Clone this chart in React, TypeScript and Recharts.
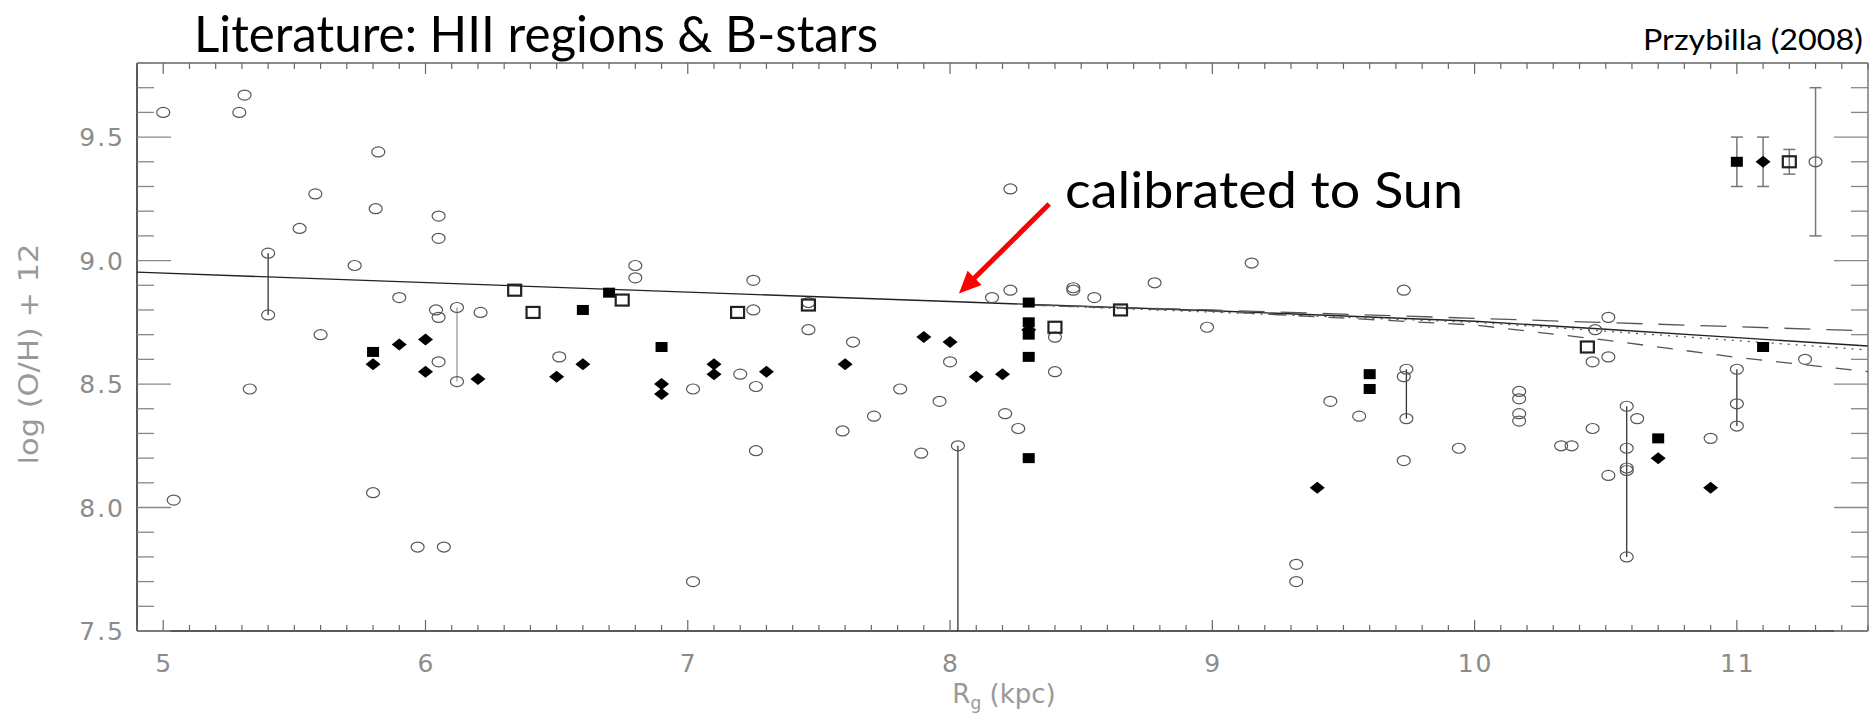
import { ComposedChart, Scatter, Line, XAxis, YAxis, ReferenceLine, ErrorBar } from "recharts"

// [R_g (kpc), log(O/H)+12]
const hiiRegions: [number, number][] = [
  [5.0, 9.6], [5.29, 9.6], [5.31, 9.67], [5.33, 8.48], [5.04, 8.03], [5.4, 9.03], [5.4, 8.78],
  [5.52, 9.13], [5.58, 9.27], [5.6, 8.7], [5.73, 8.98], [5.82, 9.44], [5.81, 9.21], [5.8, 8.06],
  [5.9, 8.85], [5.97, 7.84], [6.07, 7.84], [6.05, 9.18], [6.05, 9.09], [6.04, 8.8], [6.05, 8.77],
  [6.05, 8.59], [6.12, 8.81], [6.12, 8.51], [6.21, 8.79], [6.51, 8.61], [6.8, 8.98], [6.8, 8.93],
  [7.02, 8.48], [7.02, 7.7], [7.25, 8.92], [7.25, 8.8], [7.2, 8.54], [7.26, 8.49], [7.26, 8.23],
  [7.46, 8.72], [7.46, 8.83], [7.63, 8.67], [7.59, 8.31], [7.71, 8.37], [7.81, 8.48], [7.89, 8.22],
  [7.96, 8.43], [8.0, 8.59], [8.03, 8.25], [8.16, 8.85], [8.23, 8.88], [8.23, 9.29], [8.21, 8.38],
  [8.26, 8.32], [8.4, 8.69], [8.4, 8.55], [8.47, 8.89], [8.47, 8.88], [8.55, 8.85], [8.78, 8.91],
  [8.98, 8.73], [9.15, 8.99], [9.73, 8.88], [9.73, 8.53], [9.74, 8.56], [9.74, 8.36], [9.73, 8.19],
  [9.45, 8.43], [9.56, 8.37], [9.32, 7.77], [9.32, 7.7], [9.94, 8.24], [10.17, 8.47], [10.17, 8.44],
  [10.17, 8.38], [10.17, 8.35], [10.33, 8.25], [10.37, 8.25], [10.46, 8.72], [10.51, 8.77],
  [10.45, 8.59], [10.51, 8.61], [10.45, 8.32], [10.58, 8.41], [10.58, 7.8], [10.58, 8.24],
  [10.58, 8.16], [10.58, 8.15], [10.62, 8.36], [10.51, 8.13], [10.9, 8.28], [11.0, 8.56],
  [11.0, 8.42], [11.0, 8.33], [11.26, 8.6],
]

const starsSquare: [number, number][] = [
  [5.8, 8.63], [6.6, 8.8], [6.7, 8.87], [6.9, 8.65], [8.3, 8.83], [8.3, 8.75], [8.3, 8.7],
  [8.3, 8.61], [8.3, 8.2], [9.6, 8.54], [9.6, 8.48], [10.7, 8.28], [11.1, 8.65],
]

const starsDiamond: [number, number][] = [
  [5.8, 8.58], [5.9, 8.66], [6.0, 8.68], [6.0, 8.55], [6.2, 8.52], [6.5, 8.53], [6.6, 8.58],
  [6.9, 8.5], [6.9, 8.46], [7.1, 8.58], [7.1, 8.54], [7.3, 8.55], [7.6, 8.58], [7.9, 8.69],
  [8.0, 8.67], [8.1, 8.53], [8.2, 8.54], [8.3, 8.72], [9.4, 8.08], [10.7, 8.2], [10.9, 8.08],
]

const starsOpenSquare: [number, number][] = [
  [6.34, 8.88], [6.41, 8.79], [6.75, 8.84], [7.19, 8.79], [7.46, 8.82], [8.4, 8.73], [8.65, 8.8],
  [10.43, 8.65],
]

// typical errors: [x, y, err]
const errSquare = [11.0, 9.4, 0.1]
const errDiamond = [11.1, 9.4, 0.1]
const errOpenSquare = [11.2, 9.4, 0.05]
const errCircle = [11.3, 9.4, 0.3]

// ranges joining two estimates of the same object
const connectors: [number, number][][] = [
  [[5.4, 8.78], [5.4, 9.03]],
  [[6.12, 8.51], [6.12, 8.81]],
  [[8.03, 7.5], [8.03, 8.25]],
  [[9.74, 8.36], [9.74, 8.56]],
  [[10.58, 7.8], [10.58, 8.41]],
  [[11.0, 8.33], [11.0, 8.56]],
]

// gradient fits
const fitSolid: [number, number][] = [
  [4.9, 8.953], [8.0, 8.834], [9.0, 8.797], [10.0, 8.754], [10.5, 8.722], [11.0, 8.688], [11.5, 8.654],
]
const fitUpper: [number, number][] = [[8.3, 8.82], [9.0, 8.8], [10.0, 8.766], [11.5, 8.715]]
const fitLower: [number, number][] = [
  [8.3, 8.82], [9.0, 8.795], [10.0, 8.739], [10.5, 8.678], [11.0, 8.608], [11.5, 8.55],
]
const fitDotted: [number, number][] = [[8.3, 8.82], [10.0, 8.75], [10.5, 8.714], [11.0, 8.676], [11.5, 8.638]]

const arrowFrom = { x: 8.378, y: 9.229 }
const arrowTo = { x: 8.034, y: 8.867 }

const xDomain = [4.9, 11.5]
const yDomain = [7.5, 9.8]
const xTicks = Array.from({ length: 67 }, (_, i) => Math.round((4.9 + i * 0.1) * 10) / 10)
const yTicks = Array.from({ length: 24 }, (_, i) => Math.round((7.5 + i * 0.1) * 10) / 10)

const toXY = (pts: [number, number][]) => pts.map(([x, y]) => ({ x, y }))
const toErr = (e: number[]) => [{ x: e[0], y: e[1], err: e[2] }]

const isInt = (v: number) => Math.abs(v - Math.round(v)) < 1e-6
const isHalf = (v: number) => Math.abs(v * 2 - Math.round(v * 2)) < 1e-6

const tickFont = { fontFamily: "DejaVu Sans", fontSize: 25, fill: "#8c8c8c", letterSpacing: 2 }

function LeftTick(p: any) {
  const v = p.payload.value
  const major = isHalf(v)
  return (
    <g>
      <line x1={p.x} x2={p.x + (major ? 34 : 17)} y1={p.y} y2={p.y} stroke="#888" strokeWidth={1.3} />
      {major && (
        <text x={p.x - 12} y={p.y + 9} textAnchor="end" {...tickFont}>
          {v.toFixed(1)}
        </text>
      )}
    </g>
  )
}

function RightTick(p: any) {
  const major = isHalf(p.payload.value)
  return <line x1={p.x} x2={p.x - (major ? 34 : 17)} y1={p.y} y2={p.y} stroke="#888" strokeWidth={1.3} />
}

function BottomTick(p: any) {
  const v = p.payload.value
  const major = isInt(v)
  return (
    <g>
      <line x1={p.x} x2={p.x} y1={p.y} y2={p.y - (major ? 11 : 6)} stroke="#666" strokeWidth={1.2} />
      {major && (
        <text x={p.x + 1} y={p.y + 41} textAnchor="middle" {...tickFont}>
          {String(v)}
        </text>
      )}
    </g>
  )
}

function TopTick(p: any) {
  const major = isInt(p.payload.value)
  return <line x1={p.x} x2={p.x} y1={p.y} y2={p.y + (major ? 11 : 6)} stroke="#666" strokeWidth={1.2} />
}

const OpenCircle = (p: any) => (
  <ellipse cx={p.cx} cy={p.cy} rx={6.5} ry={5} fill="none" stroke="#555" strokeWidth={1.2} />
)
const FilledSquare = (p: any) => <rect x={p.cx - 6} y={p.cy - 5} width={12} height={10} fill="#000" />
const Diamond = (p: any) => (
  <polygon
    points={`${p.cx - 7.5},${p.cy} ${p.cx},${p.cy - 6} ${p.cx + 7.5},${p.cy} ${p.cx},${p.cy + 6}`}
    fill="#000"
  />
)
const OpenSquare = (p: any) => (
  <rect x={p.cx - 6.5} y={p.cy - 5.5} width={13} height={11} fill="none" stroke="#222" strokeWidth={2.2} />
)

function Arrow(p: any) {
  const { x1, y1, x2, y2 } = p
  const dx = x2 - x1
  const dy = y2 - y1
  const len = Math.hypot(dx, dy)
  const ux = dx / len
  const uy = dy / len
  const head = 22
  const hw = 10
  const bx = x2 - ux * head
  const by = y2 - uy * head
  return (
    <g>
      <line x1={x1} y1={y1} x2={bx + ux * 2} y2={by + uy * 2} stroke="#f00" strokeWidth={5} />
      <polygon points={`${x2},${y2} ${bx - uy * hw},${by + ux * hw} ${bx + uy * hw},${by - ux * hw}`} fill="#f00" />
    </g>
  )
}

export default function App() {
  return (
    <div style={{ position: "relative", width: 1869, height: 715, background: "#fff" }}>
      <style>{"body{margin:0}"}</style>
      <ComposedChart width={1869} height={715} margin={{ top: 62, right: 0, bottom: 83, left: 136 }}>
        <XAxis
          type="number"
          dataKey="x"
          domain={xDomain}
          allowDataOverflow
          ticks={xTicks}
          interval={0}
          height={1}
          tickSize={0}
          tickMargin={0}
          tickLine={false}
          axisLine={{ stroke: "#222", strokeWidth: 1.5 }}
          tick={<BottomTick />}
        />
        <XAxis
          xAxisId="top"
          orientation="top"
          type="number"
          dataKey="x"
          domain={xDomain}
          allowDataOverflow
          ticks={xTicks}
          interval={0}
          height={1}
          tickSize={0}
          tickMargin={0}
          tickLine={false}
          axisLine={{ stroke: "#666", strokeWidth: 1.3 }}
          tick={<TopTick />}
        />
        <YAxis
          type="number"
          dataKey="y"
          domain={yDomain}
          allowDataOverflow
          ticks={yTicks}
          interval={0}
          width={1}
          tickSize={0}
          tickMargin={0}
          tickLine={false}
          axisLine={{ stroke: "#222", strokeWidth: 1.5 }}
          tick={<LeftTick />}
        />
        <YAxis
          yAxisId="right"
          orientation="right"
          type="number"
          dataKey="y"
          domain={yDomain}
          allowDataOverflow
          ticks={yTicks}
          interval={0}
          width={1}
          tickSize={0}
          tickMargin={0}
          tickLine={false}
          axisLine={{ stroke: "#666", strokeWidth: 1.3 }}
          tick={<RightTick />}
        />

        <Line data={toXY(fitSolid)} dataKey="y" type="linear" stroke="#222" strokeWidth={1.4} dot={false} isAnimationActive={false} />
        <Line data={toXY(fitUpper)} dataKey="y" type="linear" stroke="#555" strokeWidth={1.3} strokeDasharray="26 16" dot={false} isAnimationActive={false} />
        <Line data={toXY(fitLower)} dataKey="y" type="linear" stroke="#555" strokeWidth={1.3} strokeDasharray="16 14" dot={false} isAnimationActive={false} />
        <Line data={toXY(fitDotted)} dataKey="y" type="linear" stroke="#555" strokeWidth={1.3} strokeDasharray="2 6" dot={false} isAnimationActive={false} />

        {connectors.map((seg, i) => (
          <Line
            key={i}
            data={toXY(seg)}
            dataKey="y"
            type="linear"
            stroke={i === 1 ? "#999" : "#333"}
            strokeWidth={1.3}
            dot={false}
            isAnimationActive={false}
          />
        ))}

        <Scatter data={toXY(hiiRegions)} shape={OpenCircle} isAnimationActive={false} />
        <Scatter data={toXY(starsDiamond)} shape={Diamond} isAnimationActive={false} />
        <Scatter data={toXY(starsSquare)} shape={FilledSquare} isAnimationActive={false} />
        <Scatter data={toXY(starsOpenSquare)} shape={OpenSquare} isAnimationActive={false} />

        <Scatter data={toErr(errSquare)} shape={FilledSquare} isAnimationActive={false}>
          <ErrorBar dataKey="err" direction="y" width={6} stroke="#777" strokeWidth={1.5} isAnimationActive={false} />
        </Scatter>
        <Scatter data={toErr(errDiamond)} shape={Diamond} isAnimationActive={false}>
          <ErrorBar dataKey="err" direction="y" width={6} stroke="#777" strokeWidth={1.5} isAnimationActive={false} />
        </Scatter>
        <Scatter data={toErr(errOpenSquare)} shape={OpenSquare} isAnimationActive={false}>
          <ErrorBar dataKey="err" direction="y" width={6} stroke="#777" strokeWidth={1.5} isAnimationActive={false} />
        </Scatter>
        <Scatter data={toErr(errCircle)} shape={OpenCircle} isAnimationActive={false}>
          <ErrorBar dataKey="err" direction="y" width={6} stroke="#777" strokeWidth={1.5} isAnimationActive={false} />
        </Scatter>

        <ReferenceLine segment={[arrowFrom, arrowTo]} shape={Arrow} />
      </ComposedChart>

      <svg width={1869} height={715} style={{ position: "absolute", left: 0, top: 0, pointerEvents: "none", overflow: "visible" }}>
        <text x={194} y={52} fontFamily="Lato" fontSize={50} fill="#000" textLength={684} lengthAdjust="spacingAndGlyphs">
          Literature: HII regions &amp; B-stars
        </text>
        <text x={1863} y={50} textAnchor="end" fontFamily="Lato" fontSize={29} fill="#000" textLength={220} lengthAdjust="spacingAndGlyphs">
          Przybilla (2008)
        </text>
        <text x={1065} y={208} fontFamily="Lato" fontSize={50} fill="#000" textLength={398} lengthAdjust="spacingAndGlyphs">
          calibrated to Sun
        </text>
        <text
          x={0}
          y={0}
          transform="translate(38 354) rotate(-90)"
          textAnchor="middle"
          fontFamily="DejaVu Sans"
          fontSize={26}
          fill="#999"
          textLength={221}
          lengthAdjust="spacingAndGlyphs"
        >
          log (O/H) + 12
        </text>
        <text x={1004} y={703} textAnchor="middle" fontFamily="DejaVu Sans" fontSize={26} fill="#999">
          R<tspan fontSize={17} dy={6}>g</tspan>
          <tspan dy={-6}> (kpc)</tspan>
        </text>
      </svg>
    </div>
  )
}
